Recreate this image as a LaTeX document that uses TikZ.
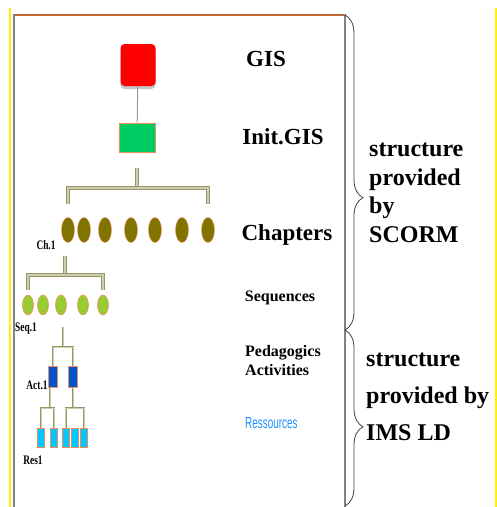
\documentclass[tikz,border=0pt]{standalone}
\usepackage{fontspec}
\setmainfont{Liberation Serif}
\setsansfont{Liberation Sans}
\usetikzlibrary{shapes.geometric,shadows,decorations.pathreplacing}
\definecolor{gisred}{RGB}{255,0,0}
\definecolor{initgreen}{RGB}{0,204,100}
\definecolor{chapolive}{RGB}{128,115,0}
\definecolor{seqgreen}{RGB}{153,204,51}
\definecolor{actblue}{RGB}{0,85,204}
\definecolor{rescyan}{RGB}{0,200,255}
\definecolor{rim}{RGB}{240,140,90}
\definecolor{brk}{RGB}{150,150,105}
\definecolor{brklight}{RGB}{205,205,175}
\definecolor{framegray}{RGB}{130,130,130}
\definecolor{topbrown}{RGB}{195,105,55}
\definecolor{ressblue}{RGB}{30,144,255}
\tikzset{chap/.style={ellipse, fill=chapolive, draw=rim, line width=.4pt, minimum width=13pt, minimum height=25pt, inner sep=0pt},
  seqn/.style={ellipse, fill=seqgreen, draw=rim, line width=.5pt, minimum width=11pt, minimum height=20pt, inner sep=0pt},
  actbox/.style={rectangle, fill=actblue, draw=rim, line width=.8pt, minimum width=9pt, minimum height=21pt, inner sep=0pt},
  resbox/.style={rectangle, fill=rescyan, draw=rim, line width=.8pt, minimum width=7pt, minimum height=19pt, inner sep=0pt},
  bracket/.style={draw=brk, double=brklight, line width=1.2pt, double distance=1.2pt},
  thinbracket/.style={draw=brk, double=brklight, line width=.7pt, double distance=.6pt},
  head/.style={font=\bfseries\fontsize{23}{26}\selectfont, inner sep=0pt},
  sub/.style={font=\bfseries\fontsize{16}{19}\selectfont, align=left, inner sep=0pt},
  lbl/.style={font=\bfseries\fontsize{13}{13}\selectfont, inner sep=0pt},
  brc/.style={draw=black!75, line width=.8pt, decorate}}

\begin{document}
\begin{tikzpicture}[x=1pt, y=-1pt]
  \useasboundingbox (0,0) rectangle (497,507);
  % frame
  \draw[yellow, line width=2.5pt] (10,8) -- (10,507);
  \draw[yellow, line width=2pt] (495.5,8) -- (495.5,507);
  \draw[framegray, line width=1.5pt] (14,507) -- (14,15) -- (345,15) -- (345,507);
  \draw[topbrown, line width=1.5pt] (15,15) -- (344,15);
  \draw[brc, decoration={brace, amplitude=18pt, aspect=.58}] (345,15) -- (345,330);
  \draw[brc, decoration={brace, amplitude=18pt, aspect=.55}] (345,330) -- (345,506);

  % tree
  \node[rectangle, rounded corners=4pt, fill=gisred, minimum width=35pt, minimum height=42pt,
    drop shadow={shadow xshift=0pt, shadow yshift=-3pt, opacity=.45}] (gis) at (138,65) {};
  \node[rectangle, fill=initgreen, draw=rim, line width=.8pt, minimum width=36pt, minimum height=29pt] (init) at (137,137.5) {};
  \draw[framegray!80, line width=1pt] (gis) -- (init);

  \foreach \x [count=\i] in {68,84,105,131,155,182,208}
    \node[chap] (ch\i) at (\x,230) {};
  \coordinate (chbar) at (137,188);
  \draw[bracket, shorten >=16pt] (chbar) -- (chbar |- init.south);
  \draw[bracket] ([yshift=13pt]ch1.north) -- (ch1.north |- chbar) -- (ch7.north |- chbar) -- ([yshift=13pt]ch7.north);

  \foreach \x [count=\i] in {28,43,61,83,103}
    \node[seqn] (seq\i) at (\x,305) {};
  \coordinate (seqbar) at (65,275);
  \draw[bracket, shorten >=13pt] (seqbar) -- (seqbar |- ch1.south);
  \draw[bracket] ([yshift=5pt]seq1.north) -- (seq1.north |- seqbar) -- (seq5.north |- seqbar) -- ([yshift=5pt]seq5.north);

  \node[actbox] (act1) at (53,376.5) {};
  \node[actbox] (act2) at (73,376.5) {};
  \coordinate (actbar) at (63,347);
  \draw[thinbracket, shorten >=12pt] (actbar) -- (actbar |- seq3.south);
  \draw[thinbracket] (act1.north) -- (act1.north |- actbar) -- (act2.north |- actbar) -- (act2.north);

  \foreach \x [count=\i] in {41,54,65.5,75,84}
    \node[resbox] (res\i) at (\x,438) {};
  \coordinate (resbar1) at (50,408);
  \coordinate (resbar2) at (73,408);
  \draw[thinbracket] (resbar1) -- (resbar1 |- act1.south);
  \draw[thinbracket] (res1.north) -- (res1.north |- resbar1) -- (res2.north |- resbar1) -- (res2.north);
  \draw[thinbracket] (resbar2) -- (resbar2 |- act2.south);
  \draw[thinbracket] (res3.north) -- (res3.north |- resbar2) -- (res5.north |- resbar2) -- (res5.north);

  % small labels
  \node[lbl] (lch) at (46,245) {\scalebox{.72}[1]{Ch.1}};
  \node[lbl] (lseq) at (26,329) {\scalebox{.72}[1]{Seq.1}};
  \node[lbl] (lact) at (37,385) {\scalebox{.72}[1]{Act.1}};
  \node[lbl] (lres) at (33,460) {\scalebox{.72}[1]{Res1}};

  % level names
  \node[head] (tgis) at (266,59) {GIS};
  \node[head] (tinit) at (283,137) {Init.GIS};
  \node[head] (tchap) at (287,235) {Chapters};
  \node[sub] (tseq) at (280,298) {Sequences};
  \node[sub, anchor=west] (tped) at (245,361) {Pedagogics\\Activities};
  \node[anchor=west, inner sep=0pt, text=ressblue, font=\sffamily\fontsize{16}{16}\selectfont] (tres) at (245,423) {\scalebox{.62}[1]{Ressources}};

  \node[anchor=west, align=left, inner sep=0pt, font=\bfseries\fontsize{24}{28.5}\selectfont] (scorm) at (369,193) {structure\\provided\\by\\SCORM};
  \node[anchor=west, align=left, inner sep=0pt, font=\bfseries\fontsize{24}{37}\selectfont] (imsld) at (366,397) {structure\\provided by\\IMS LD};
\end{tikzpicture}
\end{document}
